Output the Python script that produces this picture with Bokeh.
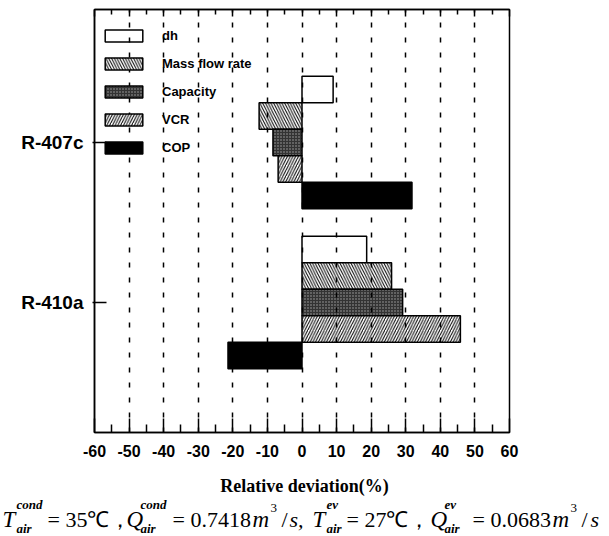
from bokeh.plotting import figure
from bokeh.layouts import column
from bokeh.models import Range1d, FixedTicker, LinearAxis, Legend, LegendItem
from bokeh.core.properties import value
from bokeh.embed import file_html
from bokeh.resources import INLINE

# ---- data ----
refrigerants = ["R-407c", "R-410a"]
series_names = ["dh", "Mass flow rate", "Capacity", "VCR", "COP"]
dh = [9.0, 18.7]
mass_flow = [-12.4, 25.9]
capacity = [-8.4, 29.1]
vcr = [-6.9, 45.8]
cop = [31.8, -21.4]
x_ticks = list(range(-60, 61, 10))
x_tick_labels = ["-60", "-50", "-40", "-30", "-20", "-10", "0", "10", "20", "30", "40", "50", "60"]
x_minor = list(range(-55, 60, 10))
grid_ticks = list(range(-50, 51, 10))
x_title = "Relative deviation(%)"

# ---- layout ----
group_pos = [2.0, 1.0]          # R-407c on top
bar_h = 26.5 / 160.0
offsets = [2, 1, 0, -1, -2]

P_H = 466
p = figure(width=609, height=P_H, x_range=Range1d(-60, 60), y_range=Range1d(0.1875, 2.831),
           output_backend="svg", toolbar_location=None,
           min_border_left=94, min_border_right=100, min_border_top=9, min_border_bottom=34)
p.frame_align = False
p.background_fill_color = "white"
p.border_fill_color = "white"
p.outline_line_color = "black"
p.outline_line_width = 1.5

styles = [
    dict(fill_color="white", fill_alpha=0.0),
    dict(fill_color="white", hatch_pattern="left_diagonal_line", hatch_color="black", hatch_scale=5.5, hatch_weight=1.0),
    dict(fill_color="#333333", hatch_pattern="dot", hatch_color="#a8a8a8", hatch_scale=3.0, hatch_weight=1.0),
    dict(fill_color="white", hatch_pattern="right_diagonal_line", hatch_color="black", hatch_scale=5.5, hatch_weight=1.0),
    dict(fill_color="black"),
]
values = [dh, mass_flow, capacity, vcr, cop]

items = []
for name, vals, off, st in zip(series_names, values, offsets, styles):
    ys = [g + off * bar_h for g in group_pos]
    r = p.hbar(y=ys, left=0, right=vals, height=bar_h, line_color="black", line_width=1.5, **st)
    items.append(LegendItem(label=name, renderers=[r]))

legend = Legend(items=items, location=(6, 277), padding=0, margin=0, spacing=13,
                glyph_width=47, glyph_height=15, label_height=15, label_standoff=15,
                label_text_font="Liberation Sans", label_text_font_style="bold",
                label_text_font_size="13px", label_text_color="black",
                border_line_color=None, background_fill_alpha=0.0)
p.add_layout(legend, "center")

# grid
p.ygrid.visible = False
p.xgrid.ticker = FixedTicker(ticks=grid_ticks)
p.xgrid.grid_line_color = "black"
p.xgrid.grid_line_dash = "5 10"
p.xgrid.grid_line_width = 1.5
p.xgrid.level = "overlay"

# x axis (bottom)
xa = p.xaxis[0]
xa.ticker = FixedTicker(ticks=x_ticks, minor_ticks=x_minor)
xa.major_label_overrides = {t: s for t, s in zip(x_ticks, x_tick_labels)}
xa.major_tick_in = 14
xa.major_tick_out = 0
xa.minor_tick_in = 8
xa.minor_tick_out = 0
xa.axis_line_width = 1.5
xa.major_tick_line_width = 1.5
xa.minor_tick_line_width = 1.5
xa.major_label_standoff = 12
xa.major_label_text_font = "Liberation Sans"
xa.major_label_text_font_style = "bold"
xa.major_label_text_font_size = "16px"
xa.major_label_text_color = "black"

# top axis (ticks only, no labels drawn)
top = LinearAxis(ticker=FixedTicker(ticks=x_ticks, minor_ticks=x_minor),
                 major_tick_in=7, major_tick_out=0, minor_tick_in=5, minor_tick_out=0,
                 major_label_text_font_size="1px", major_label_text_color=None, major_label_standoff=0,
                 axis_line_width=1.5, major_tick_line_width=1.5, minor_tick_line_width=1.5)
p.add_layout(top, "above")

# y axis
ya = p.yaxis[0]
ya.ticker = FixedTicker(ticks=group_pos)
ya.major_label_overrides = {2: refrigerants[0], 1: refrigerants[1]}
ya.major_tick_in = 12
ya.major_tick_out = 2
ya.minor_tick_line_color = None
ya.axis_line_width = 1.5
ya.major_tick_line_width = 1.5
ya.major_label_standoff = 9
ya.major_label_text_font = "Liberation Sans"
ya.major_label_text_font_style = "bold"
ya.major_label_text_font_size = "19px"
ya.major_label_text_color = "black"

# ---- caption strip (page pixel coordinates) ----
c = figure(width=609, height=536 - P_H, x_range=Range1d(0, 609), y_range=Range1d(536, P_H),
           output_backend="svg", toolbar_location=None, min_border=0)
c.frame_align = False
c.axis.visible = False
c.grid.visible = False
c.outline_line_color = None
c.background_fill_color = "white"
c.border_fill_color = "white"

c.text(x=[304], y=[485], text=[x_title], text_font=value("Liberation Serif"),
       text_font_style="bold", text_font_size="18px", text_align="center",
       text_baseline="middle", text_color="black")

MID, SUP, SUB = 519, 504, 528


def cap(text, cx, cy, size, style="normal"):
    c.text(x=[cx], y=[cy], text=[text], text_font=value("Liberation Serif"),
           text_font_style=style, text_font_size=f"{size}px",
           text_baseline="middle", text_color="black")


def var(sym, x, sup, sub):
    cap(sym, x, MID, 23, "italic")
    cap(sup, x + 14, SUP, 13, "bold italic")
    cap(sub, x + 14, SUB, 13, "bold italic")


var("T", 2, "cond", "air")
cap("= 35℃，", 47, MID, 22)
var("Q", 126, "cond", "air")
cap("= 0.7418", 172, MID, 22)
cap("m", 252, MID, 23, "italic")
cap("3", 270, SUP + 3, 13)
cap("/", 281, MID, 22)
cap("s,", 289, MID, 22, "italic")
var("T", 312, "ev", "air")
cap("= 27℃，", 346, MID, 22)
var("Q", 430, "ev", "air")
cap("= 0.0683", 472, MID, 22)
cap("m", 552, MID, 23, "italic")
cap("3", 570, SUP + 3, 13)
cap("/", 581, MID, 22)
cap("s", 590, MID, 22, "italic")

layout = column(p, c, spacing=0)
open("out.html", "w").write(file_html(layout, INLINE))
